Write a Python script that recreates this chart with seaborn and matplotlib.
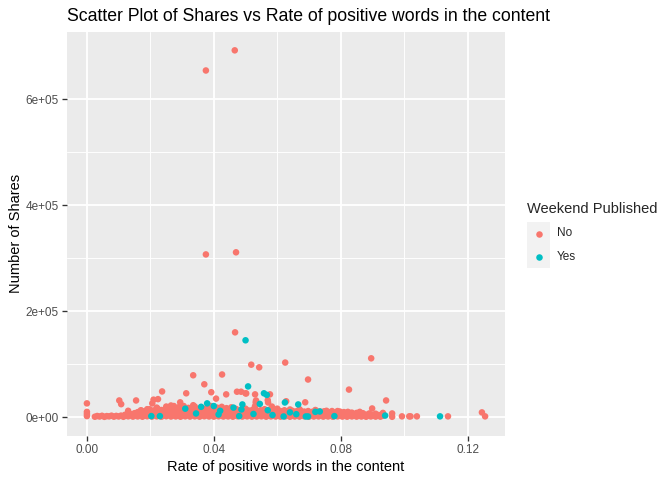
import pandas as pd
import matplotlib
matplotlib.use("Agg")
import matplotlib.pyplot as plt
import seaborn as sns
from matplotlib.patches import Rectangle
from matplotlib.lines import Line2D

# --- data ---
# weekday articles: dense band near zero
band_x = [0.0025, 0.004, 0.0055, 0.007, 0.0085, 0.010, 0.0115, 0.013, 0.0145, 0.016,
          0.0175, 0.019, 0.0205, 0.022, 0.0235, 0.025, 0.0265, 0.028, 0.0295, 0.031,
          0.0325, 0.034, 0.0355, 0.037, 0.0385, 0.040, 0.0415, 0.043, 0.0445, 0.046,
          0.0475, 0.049, 0.0505, 0.052, 0.0535, 0.055, 0.0565, 0.058, 0.0595, 0.061,
          0.0625, 0.064, 0.0655, 0.067, 0.0685, 0.070, 0.0715, 0.073, 0.0745, 0.076,
          0.0775, 0.079, 0.0805, 0.082, 0.0835, 0.085, 0.0865, 0.088, 0.0895, 0.091,
          0.0925,
          0.00325, 0.00475, 0.00625, 0.00775, 0.00925, 0.01075, 0.01225, 0.01375, 0.01525, 0.01675,
          0.01825, 0.01975, 0.02125, 0.02275, 0.02425, 0.02575, 0.02725, 0.02875, 0.03025, 0.03175,
          0.03325, 0.03475, 0.03625, 0.03775, 0.03925, 0.04075, 0.04225, 0.04375, 0.04525, 0.04675,
          0.04825, 0.04975, 0.05125, 0.05275, 0.05425, 0.05575, 0.05725, 0.05875, 0.06025, 0.06175,
          0.06325, 0.06475, 0.06625, 0.06775, 0.06925, 0.07075, 0.07225, 0.07375, 0.07525, 0.07675,
          0.07825, 0.07975, 0.08125, 0.08275, 0.08425, 0.08575, 0.08725, 0.08875, 0.09025, 0.09175,
          0.09325,
          0.012, 0.014, 0.016, 0.018, 0.020, 0.022, 0.024, 0.026, 0.028, 0.030,
          0.032, 0.034, 0.036, 0.038, 0.040, 0.042, 0.044, 0.046, 0.048, 0.050,
          0.052, 0.054, 0.056, 0.058, 0.060, 0.062, 0.064, 0.066, 0.068, 0.070,
          0.072, 0.074, 0.076, 0.078, 0.080, 0.082, 0.084, 0.086, 0.088, 0.090,
          0.092,
          0.013, 0.015, 0.017, 0.019, 0.021, 0.023, 0.025, 0.027, 0.029, 0.031,
          0.033, 0.035, 0.037, 0.039, 0.041, 0.043, 0.045, 0.047, 0.049, 0.051,
          0.053, 0.055, 0.057, 0.059, 0.061, 0.063, 0.065, 0.067, 0.069, 0.071,
          0.073, 0.075, 0.077, 0.079, 0.081, 0.083, 0.085, 0.087, 0.089, 0.091,
          0.016, 0.0185, 0.021, 0.0235, 0.026, 0.0285, 0.031, 0.0335, 0.036, 0.0385,
          0.041, 0.0435, 0.046, 0.0485, 0.051, 0.0535, 0.056, 0.0585, 0.061, 0.0635,
          0.066, 0.0685, 0.071, 0.0735, 0.076, 0.0785, 0.081, 0.0835,
          0.01725, 0.01975, 0.02225, 0.02475, 0.02725, 0.02975, 0.03225, 0.03475, 0.03725, 0.03975,
          0.04225, 0.04475, 0.04725, 0.04975, 0.05225, 0.05475, 0.05725, 0.05975, 0.06225, 0.06475,
          0.06725, 0.06975, 0.07225, 0.07475, 0.07725, 0.07975, 0.08225,
          0.022, 0.025, 0.027, 0.029, 0.032, 0.034, 0.036, 0.038, 0.041, 0.044,
          0.047, 0.050, 0.053, 0.056, 0.060, 0.064, 0.067, 0.072, 0.0755, 0.079,
          0.086, 0.013, 0.017, 0.019, 0.0265, 0.0305, 0.0335, 0.0395, 0.0425, 0.0455]
band_y = [800, 1200, 600, 1500, 900, 1300, 700, 1600, 1000, 1400,
          800, 1700, 1100, 1500, 900, 1800, 1200, 1400, 800, 1600,
          1100, 1500, 900, 1700, 1300, 1000, 1600, 1200, 1400, 900,
          1700, 1100, 1500, 1000, 1300, 1600, 900, 1400, 1200, 1000,
          1500, 800, 1300, 1100, 1600, 900, 1200, 1400, 1000, 1300,
          800, 1500, 1100, 900, 1400, 1000, 1200, 800, 1300, 1000,
          900,
          2200, 2600, 2000, 2800, 2400, 2900, 3200, 3500, 3300, 3800,
          3600, 4000, 3700, 4200, 3900, 4100, 3600, 4300, 3800, 4000,
          4200, 3700, 4100, 3900, 4300, 3600, 4000, 3800, 4200, 3500,
          4000, 3700, 4100, 3600, 3900, 4200, 3500, 3800, 4000, 3400,
          3900, 3600, 3800, 3300, 3700, 3500, 3900, 3200, 3600, 3400,
          3100, 3500, 3300, 3000, 3400, 3200, 2900, 3300, 3000, 2800,
          2600,
          4500, 5500, 6000, 7000, 6500, 7500, 6800, 8000, 7200, 7800,
          6900, 8200, 7400, 7000, 7600, 6800, 7300, 6600, 7100, 6400,
          7000, 6200, 6800, 6000, 6500, 5800, 6300, 5600, 6100, 5400,
          5900, 5200, 5700, 5000, 5500, 5300, 4800, 5200, 4600, 4400,
          4000,
          7000, 7500, 8500, 9000, 9500, 10000, 9800, 10500, 10200, 10800,
          10400, 11000, 10600, 10300, 10900, 10100, 10500, 9900, 10300, 9700,
          10000, 9500, 9800, 9200, 9600, 9000, 9400, 8800, 9100, 8600,
          8900, 8300, 8600, 8000, 8300, 7700, 8000, 7400, 7000, 6500,
          9500, 11000, 12500, 13500, 14000, 13000, 14500, 13500, 14000, 13000,
          13500, 12500, 13000, 12000, 12500, 11500, 12000, 11000, 11500, 10500,
          11000, 10500, 10000, 10500, 9500, 9000, 9500, 8500,
          12000, 15000, 16000, 15500, 16500, 15500, 16000, 15000, 16000, 15500,
          15000, 14500, 14000, 13500, 14000, 13000, 13500, 12500, 13000, 12000,
          12500, 11500, 12000, 11000, 11500, 10500, 10000,
          18000, 20000, 17000, 19000, 17500, 20000, 18000, 16500, 18000, 17000,
          15500, 16000, 17000, 15000, 16000, 14500, 15000, 13500, 12000, 11500,
          10000, 12000, 13000, 15000, 22000, 21000, 22500, 20000, 19500, 18500]

# weekday articles: scattered higher values
red_x = [0.0466, 0.0375, 0.0375, 0.0470, 0.0467, 0.0518, 0.0543, 0.0426, 0.0625, 0.0370,
         0.0697, 0.0896, 0.0826, 0.0392, 0.0439, 0.0473, 0.0486, 0.0500, 0.0530, 0.0577,
         0.0335, 0.0313, 0.0237, 0.0407, 0.0532, 0.0628, 0.0688, 0.0570, 0.0530, 0.0390,
         0.0943, 0.0899, 0.0000, 0.0102, 0.0108, 0.0155, 0.0206, 0.0210, 0.0224, 0.0294,
         0.0274, 0.1245, 0.1255, 0.0000, 0.0000, 0.0000, 0.0962, 0.0962, 0.0933, 0.0993,
         0.1016, 0.1020, 0.1040, 0.1138, 0.0571, 0.0583, 0.0533, 0.0502]
red_y = [692000, 654000, 307000, 311000, 160000, 99000, 94000, 80500, 103000, 62000,
         71000, 111000, 52000, 47000, 43000, 48000, 48000, 45000, 43000, 43000,
         79000, 45000, 48500, 35000, 28000, 30000, 28000, 32000, 21000, 21000,
         31500, 16400, 26000, 31500, 24500, 31500, 26000, 33000, 34000, 28000,
         21000, 9000, 1500, 10000, 6000, 2000, 7000, 700, 8000, 1500,
         1500, 1500, 1500, 1500, 27700, 20000, 31500, 44700]

# weekend articles
cyan_x = [0.0500, 0.0508, 0.0558, 0.0567, 0.0379, 0.0400, 0.0490, 0.0545, 0.0666, 0.0624,
          0.0734, 0.0720, 0.0940, 0.0620, 0.0660, 0.0690, 0.0203, 0.0230, 0.0360, 0.0462,
          0.0487, 0.0310, 0.0570, 0.0344, 0.0480, 0.0697, 0.1113, 0.0415, 0.0525, 0.0585,
          0.0640, 0.0780, 0.0420]
cyan_y = [145000, 58000, 45000, 42000, 26000, 21000, 24000, 25000, 24000, 27700,
          10700, 10000, 3000, 1300, 5600, 1300, 2000, 2000, 19500, 18000,
          14500, 16000, 13000, 7000, 2000, 1300, 1500, 5000, 6000, 4000,
          9000, 2000, 12000]

x_ticks = [0.00, 0.04, 0.08, 0.12]
x_labels = ["0.00", "0.04", "0.08", "0.12"]
y_ticks = [0, 200000, 400000, 600000]
y_labels = ["0e+00", "2e+05", "4e+05", "6e+05"]

all_x = band_x + red_x + cyan_x
all_y = band_y + red_y + cyan_y
df = pd.DataFrame({
    "rate": all_x,
    "shares": all_y,
    "weekend": ["No"] * (len(band_x) + len(red_x)) + ["Yes"] * len(cyan_x),
})

RED = "#F8766D"
CYAN = "#00BFC4"

sns.set_style("white")
plt.rcParams["font.family"] = ["Liberation Sans", "DejaVu Sans"]

fig = plt.figure(figsize=(7, 5), dpi=96)
ax = fig.add_axes([67 / 672, 1 - 435.5 / 480, 438 / 672, 403.5 / 480])
ax.set_facecolor("#EBEBEB")

sns.scatterplot(data=df, x="rate", y="shares", hue="weekend",
                palette={"No": RED, "Yes": CYAN}, s=24, linewidth=0,
                legend=False, ax=ax, zorder=3)

# ggplot-like limits (5% expansion)
xmax = max(all_x)
ymax = max(all_y)
ax.set_xlim(-0.05 * xmax, 1.05 * xmax)
ax.set_ylim(-0.05 * ymax, 1.05 * ymax)

ax.set_xticks(x_ticks)
ax.set_xticklabels(x_labels)
ax.set_yticks(y_ticks)
ax.set_yticklabels(y_labels)
ax.set_xticks([0.02, 0.06, 0.10], minor=True)
ax.set_yticks([100000, 300000, 500000], minor=True)
ax.grid(which="major", color="white", linewidth=1.4)
ax.grid(which="minor", color="white", linewidth=0.7)
ax.set_axisbelow(True)
for s in ax.spines.values():
    s.set_visible(False)
ax.tick_params(which="major", length=3.7, width=1.0, color="#333333",
               labelsize=8.8, labelcolor="#4D4D4D", pad=2.5,
               bottom=True, left=True)
ax.tick_params(which="minor", length=0)

ax.set_xlabel("Rate of positive words in the content", fontsize=11, color="black", labelpad=3)
ax.set_ylabel("Number of Shares", fontsize=11, color="black", labelpad=2)
ax.set_title("Scatter Plot of Shares vs Rate of positive words in the content",
             loc="left", fontsize=13.2, color="black", pad=8)

# legend drawn by hand, ggplot style
fig.text(527 / 672, 1 - 209 / 480, "Weekend Published", fontsize=11, va="center", ha="left")
fig.patches.append(Rectangle((527 / 672, 1 - 268 / 480), 23 / 672, 46 / 480,
                             transform=fig.transFigure, facecolor="#F2F2F2",
                             edgecolor="none"))
for i, (lab, col) in enumerate([("No", RED), ("Yes", CYAN)]):
    yc = 1 - (233.5 + 23 * i) / 480
    fig.lines.append(Line2D([538.5 / 672], [yc], marker="o", markersize=4.9,
                            markeredgewidth=0, color=col, transform=fig.transFigure))
    fig.text(557 / 672, yc, lab, fontsize=8.8, va="center", ha="left")

fig.savefig("out.png", dpi=96)
